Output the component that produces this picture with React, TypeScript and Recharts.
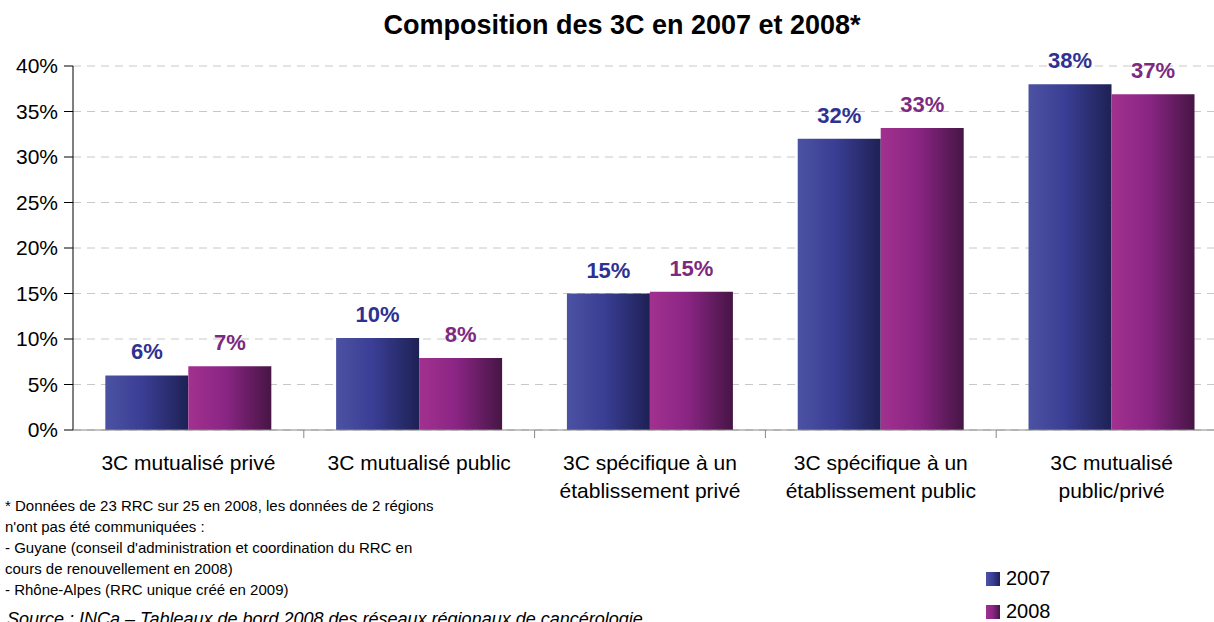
import React from "react";
import { BarChart, Bar, XAxis, YAxis, CartesianGrid, LabelList } from "recharts";

const categories = [
    ["3C mutualisé privé"],
    ["3C mutualisé public"],
    ["3C spécifique à un", "établissement privé"],
    ["3C spécifique à un", "établissement public"],
    ["3C mutualisé", "public/privé"],
];
const values2007 = [6, 10.1, 15, 32, 38];
const values2008 = [7, 7.9, 15.2, 33.2, 36.9];
const labels2007 = ["6%", "10%", "15%", "32%", "38%"];
const labels2008 = ["7%", "8%", "15%", "33%", "37%"];
const yTicks = [0, 5, 10, 15, 20, 25, 30, 35, 40];

const footnotes = [
    "* Données de 23 RRC sur 25 en 2008, les données de 2 régions",
    "n'ont pas été communiquées :",
    "- Guyane (conseil d'administration et coordination du RRC en",
    "cours de renouvellement en 2008)",
    "- Rhône-Alpes (RRC unique créé en 2009)",
];

const data = categories.map((c, i) => ({
    name: c.join("\n"),
    y2007: values2007[i],
    y2008: values2008[i],
    l2007: labels2007[i],
    l2008: labels2008[i],
}));

const FONT = "'Liberation Sans', Arial, sans-serif";
const W = 1214;
const H = 622;
// the plot runs a little past the right edge of the picture, as in the original
const M = { top: 66, right: -13, left: 0, bottom: 0 };
const Y_W = 73;
const BAND = (W - M.right - Y_W) / categories.length;

const GRAD_2007 = ["#4C52A2", "#3A3E94", "#1E2154"];
const GRAD_2008 = ["#A2318F", "#8A2584", "#461545"];

const CategoryTick = (props: any) => {
    const { x, y, payload, index } = props;
    const lines = String(payload.value).split("\n");
    const left = x - BAND / 2;
    return (
        <g>
            {index > 0 && <line x1={left} x2={left} y1={y - 8} y2={y} stroke="#888" />}
            {lines.map((l, i) => (
                <text key={i} x={x} y={y + 32 + i * 28} textAnchor="middle" fontSize={21} fill="#000" fontFamily={FONT}>
                    {l}
                </text>
            ))}
        </g>
    );
};

export default function App() {
    return (
        <div style={{ position: "absolute", left: 0, top: 0, width: W, height: H, background: "#fff", fontFamily: FONT, overflow: "hidden" }}>
            <div style={{ position: "absolute", left: 15, width: W, top: 12, lineHeight: 1, textAlign: "center", fontSize: 27, fontWeight: "bold", color: "#000" }}>
                Composition des 3C en 2007 et 2008*
            </div>
            <BarChart width={W} height={H} data={data} margin={M} barGap={0} barCategoryGap="14%" style={{ overflow: "hidden" }}>
                <defs>
                    <linearGradient id="g2007" x1="0" y1="0" x2="1" y2="0">
                        <stop offset="0%" stopColor={GRAD_2007[0]} />
                        <stop offset="45%" stopColor={GRAD_2007[1]} />
                        <stop offset="100%" stopColor={GRAD_2007[2]} />
                    </linearGradient>
                    <linearGradient id="g2008" x1="0" y1="0" x2="1" y2="0">
                        <stop offset="0%" stopColor={GRAD_2008[0]} />
                        <stop offset="45%" stopColor={GRAD_2008[1]} />
                        <stop offset="100%" stopColor={GRAD_2008[2]} />
                    </linearGradient>
                </defs>
                <CartesianGrid vertical={false} stroke="#c8c8c8" strokeDasharray="8 6" />
                <YAxis
                    width={Y_W}
                    domain={[0, 40]}
                    ticks={yTicks}
                    interval={0}
                    tickFormatter={(v) => `${v}%`}
                    axisLine={{ stroke: "#000" }}
                    tickLine={{ stroke: "#000" }}
                    tickSize={9}
                    tickMargin={6}
                    tick={{ fontSize: 21, fill: "#000", fontFamily: FONT }}
                />
                <XAxis
                    dataKey="name"
                    height={192}
                    interval={0}
                    axisLine={{ stroke: "#888" }}
                    tickLine={false}
                    tick={<CategoryTick />}
                />
                <Bar dataKey="y2007" fill="url(#g2007)" isAnimationActive={false}>
                    <LabelList dataKey="l2007" position="top" offset={16} fill="#2E3192" fontSize={22} fontWeight="bold" fontFamily={FONT} />
                </Bar>
                <Bar dataKey="y2008" fill="url(#g2008)" isAnimationActive={false}>
                    <LabelList dataKey="l2008" position="top" offset={16} fill="#7B2A80" fontSize={22} fontWeight="bold" fontFamily={FONT} />
                </Bar>
            </BarChart>
            <div style={{ position: "absolute", left: 5, top: 495, fontSize: 15, lineHeight: "21px", color: "#000" }}>
                {footnotes.map((f, i) => (
                    <div key={i}>{f}</div>
                ))}
            </div>
            <div style={{ position: "absolute", left: 7, top: 610, lineHeight: 1, fontSize: 18, fontStyle: "italic", color: "#000", whiteSpace: "nowrap" }}>
                Source : INCa – Tableaux de bord 2008 des réseaux régionaux de cancérologie
            </div>
            <div style={{ position: "absolute", left: 986, top: 562, fontSize: 20, color: "#000" }}>
                {[["2007", GRAD_2007], ["2008", GRAD_2008]].map(([name, g]: any) => (
                    <div key={name} style={{ display: "flex", alignItems: "center", height: 33 }}>
                        <span style={{ width: 14, height: 14, background: `linear-gradient(to right, ${g.join(", ")})`, marginRight: 6 }} />
                        {name}
                    </div>
                ))}
            </div>
        </div>
    );
}
